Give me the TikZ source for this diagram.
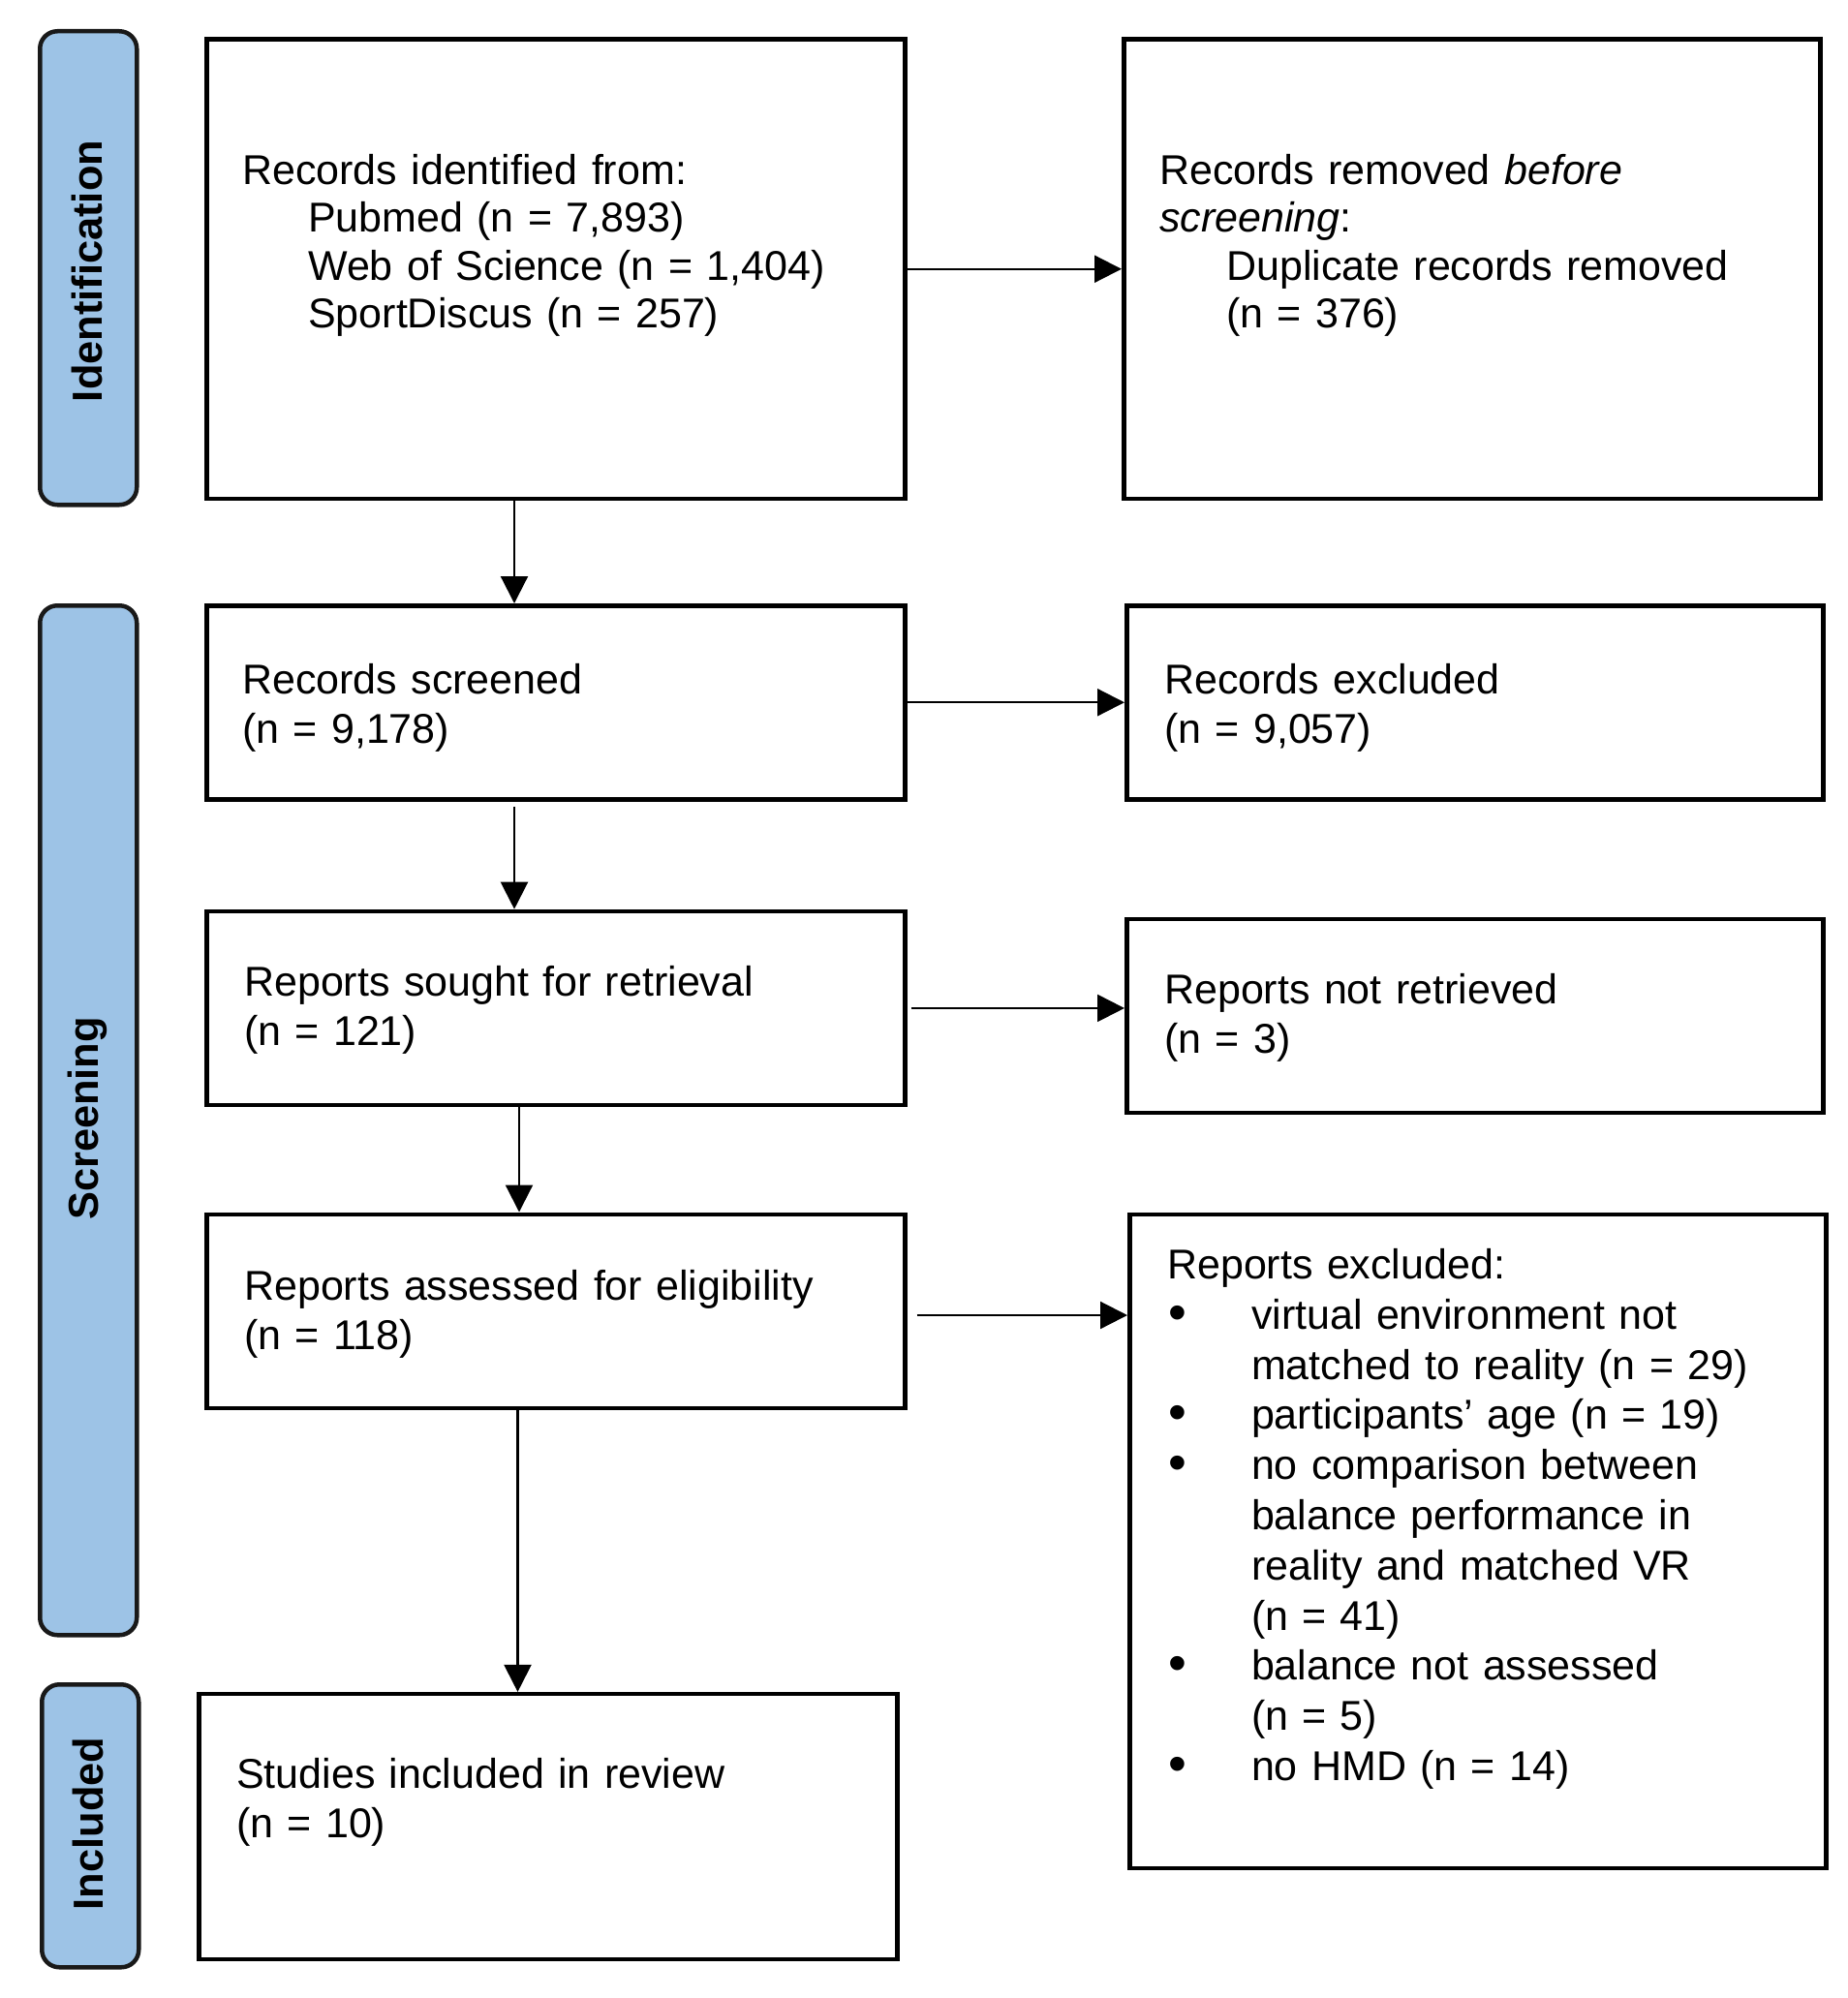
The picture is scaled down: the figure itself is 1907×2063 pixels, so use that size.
\documentclass[tikz,border=0pt]{standalone}
\usepackage{fontspec}
\setmainfont{Liberation Sans}
\usetikzlibrary{arrows.meta}
\definecolor{sideblue}{RGB}{157,195,230}
\newcommand\bulitem{\makebox[86.8pt][l]{\hspace*{1pt}\raisebox{-1pt}{\scalebox{1.25}{•}}}}
\newcommand\inditem{\hspace*{86.8pt}}
\begin{document}
\begin{tikzpicture}[x=1pt,y=-1pt,
 boxnode/.style={draw=black, line width=4.5pt, rectangle, inner sep=0pt, anchor=north west},
 sidenode/.style={draw=black!90, fill=sideblue, line width=4.5pt, rounded corners=18pt, inner sep=0pt, anchor=north west},
 sidelabel/.style={rotate=90, font={\fontsize{43.4}{50}\selectfont\bfseries}, inner sep=0pt},
 txt/.style={anchor=base west, inner sep=0pt, align=left, text width=680pt, font={\fontsize{43}{51.5}\selectfont}},
 txtb/.style={txt, font={\fontsize{43}{49.5}\selectfont}},
 txtc/.style={txt, font={\fontsize{43}{51.8}\selectfont}},
 arr/.style={line width=2.2pt, -{Triangle[length=28pt,width=28pt]}}
]
\useasboundingbox (0,0) rectangle (1907,2063);

% phase sidebars
\node[sidenode, minimum width=100pt, minimum height=489pt] (s1) at (39,30) {};
\node[sidenode, minimum width=100pt, minimum height=1063pt] (s2) at (39,623) {};
\node[sidenode, minimum width=100pt, minimum height=292pt] (s3) at (41,1737) {};
\node[sidelabel] (l1) at (90,280) {Identification};
\node[sidelabel] (l2) at (90,1155) {Screening};
\node[sidelabel] (l3) at (91,1883) {Included};

% boxes
\node[boxnode, minimum width=721pt, minimum height=474pt] (b1) at (211,38.5) {};
\node[boxnode, minimum width=719pt, minimum height=474pt] (b2) at (1158,38.5) {};
\node[boxnode, minimum width=721pt, minimum height=200pt] (b3) at (211,623) {};
\node[boxnode, minimum width=719pt, minimum height=200pt] (b4) at (1161,623) {};
\node[boxnode, minimum width=721pt, minimum height=200pt] (b5) at (211,938.7) {};
\node[boxnode, minimum width=719pt, minimum height=200pt] (b6) at (1161,946.7) {};
\node[boxnode, minimum width=721pt, minimum height=200pt] (b7) at (211,1251.5) {};
\node[boxnode, minimum width=719pt, minimum height=675pt] (b8) at (1164,1251.5) {};
\node[boxnode, minimum width=721pt, minimum height=274pt] (b9) at (203,1746.9) {};

% texts
\node[txtb] (t1) at (250,190) {Records identified from:\\
\hspace*{68pt}Pubmed (n = 7,893)\\
\hspace*{68pt}Web of Science (n = 1,404)\\
\hspace*{68pt}SportDiscus (n = 257)};
\node[txtb] (t2) at (1197,190) {Records removed \textit{before}\\
\textit{screening}:\\
\hspace*{69pt}Duplicate records removed\\
\hspace*{69pt}(n = 376)};
\node[txt] (t3) at (250,716) {Records screened\\(n = 9,178)};
\node[txt] (t4) at (1202,716) {Records excluded\\(n = 9,057)};
\node[txt] (t5) at (252,1028) {Reports sought for retrieval\\(n = 121)};
\node[txt] (t6) at (1202,1036) {Reports not retrieved\\(n = 3)};
\node[txt] (t7) at (252,1342) {Reports assessed for eligibility\\(n = 118)};
\node[txtc] (t8) at (1205,1320.5) {Reports excluded:\\
\bulitem virtual environment not\\
\inditem matched to reality (n = 29)\\
\bulitem participants’ age (n = 19)\\
\bulitem no comparison between\\
\inditem balance performance in\\
\inditem reality and matched VR\\
\inditem (n = 41)\\
\bulitem balance not assessed\\
\inditem (n = 5)\\
\bulitem no HMD (n = 14)};
\node[txt] (t9) at (244,1846) {Studies included in review\\(n = 10)};

% connectors
\coordinate (ax1) at (531,0);
\coordinate (ax2) at (536,0);
\coordinate (ax3) at (534.5,0);
\coordinate (ay4) at (0,1358);
\draw[arr] (b1.south -| ax1) -- (b3.north -| ax1);
\draw[arr, shorten <=5pt] (b3.south -| ax1) -- (b5.north -| ax1);
\draw[arr] (b5.south -| ax2) -- (b7.north -| ax2);
\draw[arr] (b7.south -| ax3) -- (b9.north -| ax3);
\draw[arr] (b1.east) -- (b2.west |- b1.east);
\draw[arr] (b3.east) -- (b4.west |- b3.east);
\draw[arr, shorten <=4pt] (b5.east) -- (b6.west |- b5.east);
\draw[arr, shorten <=10pt] (b7.east |- ay4) -- (b8.west |- ay4);
\end{tikzpicture}
\end{document}
